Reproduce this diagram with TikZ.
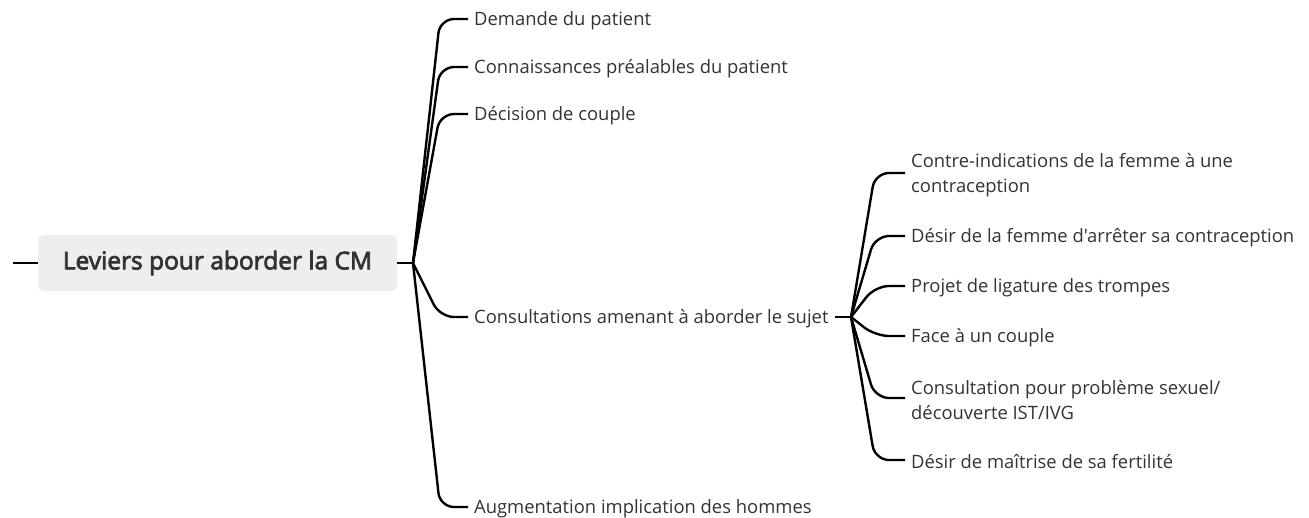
\documentclass[tikz,border=0pt]{standalone}
\usepackage{fontspec}
\setmainfont{Open Sans}[Ligatures=TeXOff]
\newfontfamily\rootfont{Open Sans}[FakeBold=3]
\usetikzlibrary{calc,positioning}
\definecolor{txtgray}{HTML}{333333}
\definecolor{rootgray}{HTML}{EEEEEE}
\tikzset{
    branch/.style={line width=2.4pt, rounded corners=14pt},
    leaf/.style={anchor=west, inner xsep=6pt, inner ysep=2pt, text=txtgray,
        font=\fontsize{18.4}{25}\selectfont, align=left},
    rootbox/.style={fill=rootgray, rounded corners=6pt, minimum width=359pt,
        minimum height=56pt, font=\rootfont\fontsize{24.5}{28}\selectfont, text=txtgray}
}

\begin{document}
\begin{tikzpicture}[x=1pt,y=-1pt]
\useasboundingbox (0,0) rectangle (1309,517); % page size

\node[rootbox] (root) at (217.5,263) {Leviers pour aborder la CM}; % central topic
\coordinate (stub) at (13,263); % left stub end
\coordinate (J) at (413,263); % first junction
\draw[line width=2.4pt] (stub) -- (root.west);
\draw[line width=2.4pt] (root.east) -- (J);

%%% FIRST LEVEL %%% (nodes sit 2pt low, lines meet them 2pt higher)
\node[leaf] (dem) at (468,21) {Demande du patient};
\node[leaf] (con) at (468,69) {Connaissances préalables du patient};
\node[leaf] (dec) at (468,116) {Décision de couple};
\node[leaf] (cons) at (468,319) {Consultations amenant à aborder le sujet};
\node[leaf] (aug) at (468,509) {Augmentation implication des hommes};

\foreach \n in {dem,con,dec,cons,aug}
    \draw[branch] (J) -- ([xshift=-28pt,yshift=2pt]\n.west) -- ([yshift=2pt]\n.west);

%%% SECOND LEVEL %%%
\coordinate (K) at (851,317); % second junction
\draw[line width=2.4pt] ([xshift=0pt,yshift=2pt]cons.east) -- (K);

\node[leaf] (ci) at (905,175) {Contre-indications de la femme à une\\contraception};
\node[leaf] (arr) at (905,238) {Désir de la femme d'arrêter sa contraception};
\node[leaf] (lig) at (905,288) {Projet de ligature des trompes};
\node[leaf] (fac) at (905,338) {Face à un couple};
\node[leaf] (sex) at (905,400) {Consultation pour problème sexuel/\\découverte IST/IVG};
\node[leaf] (fer) at (905,462) {Désir de maîtrise de sa fertilité};

\foreach \n in {ci,arr,lig,fac,sex,fer}
    \draw[branch] (K) -- ([xshift=-30pt,yshift=2pt]\n.west) -- ([yshift=2pt]\n.west);
\end{tikzpicture}
\end{document}
